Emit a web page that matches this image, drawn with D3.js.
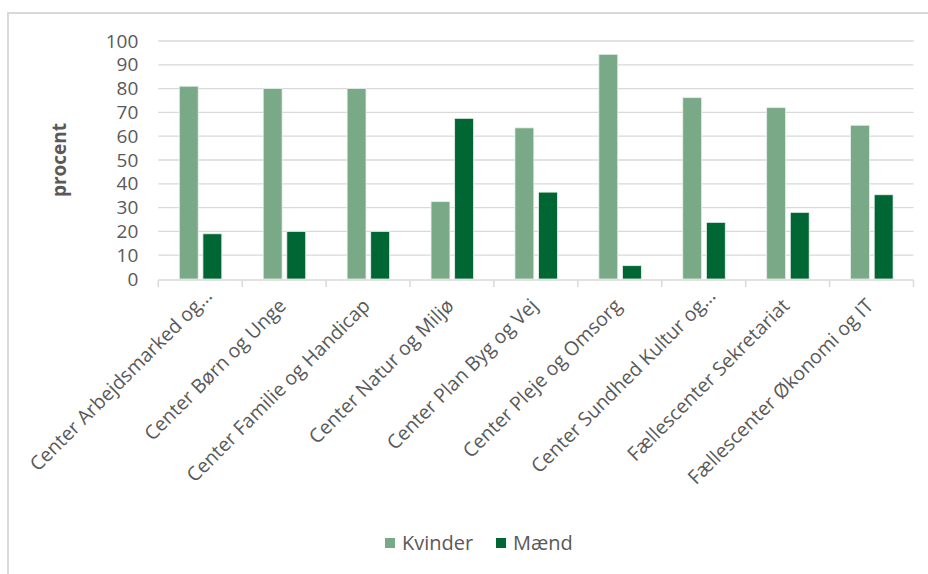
<!DOCTYPE html>
<html>
<head>
<meta charset="utf-8">
<script src="https://cdn.jsdelivr.net/npm/d3@7"></script>
<style>
  html, body { margin: 0; padding: 0; background: #fff; }
  svg { display: block; font-family: "Open Sans", sans-serif; }
</style>
</head>
<body>
<svg id="chart" width="928" height="574"></svg>
<script>
// Andel kvinder og mænd pr. center (procent)
const categories = [
  "Center Arbejdsmarked og…",
  "Center Børn og Unge",
  "Center Familie og Handicap",
  "Center Natur og Miljø",
  "Center Plan Byg og Vej",
  "Center Pleje og Omsorg",
  "Center Sundhed Kultur og…",
  "Fællescenter Sekretariat",
  "Fællescenter Økonomi og IT"
];
const seriesNames = ["Kvinder", "Mænd"];
const kvinder = [81, 80, 80, 32.5, 63.5, 94.4, 76.2, 72, 64.6];
const maend   = [19, 20, 20, 67.5, 36.5, 5.6, 23.8, 28, 35.4];
const yTicks = [0, 10, 20, 30, 40, 50, 60, 70, 80, 90, 100];
const yLabel = "procent";

const colors = { "Kvinder": "#79a987", "Mænd": "#006633" };
const textColor = "#595959";
const gridColor = "#d9d9d9";

const svg = d3.select("#chart");
const plot = { left: 158.3, right: 913.5, top: 41, bottom: 279 };

const rows = categories.map((c, i) => ({ cat: c, Kvinder: kvinder[i], "Mænd": maend[i] }));

const x0 = d3.scaleBand().domain(categories).range([plot.left, plot.right]).padding(0);
const x1 = d3.scaleBand().domain(seriesNames).range([21, 63.5]).paddingInner(0.2).paddingOuter(0);
const y = d3.scaleLinear().domain([0, 100]).range([plot.bottom, plot.top]);

// frame border
svg.append("path")
  .attr("d", `M8,574 L8,13 L928,13`)
  .attr("fill", "none").attr("stroke", gridColor).attr("stroke-width", 2);

// horizontal gridlines
svg.append("g")
  .selectAll("line")
  .data(yTicks.filter(t => t > 0))
  .join("line")
  .attr("x1", plot.left).attr("x2", plot.right)
  .attr("y1", d => y(d)).attr("y2", d => y(d))
  .attr("stroke", gridColor).attr("stroke-width", 1.3);

// y axis tick labels
const yAxis = d3.axisLeft(y).tickValues(yTicks).tickSize(0).tickPadding(20);
const gy = svg.append("g").attr("transform", `translate(${plot.left},0)`).call(yAxis);
gy.select(".domain").remove();
gy.selectAll("text")
  .attr("fill", textColor)
  .style("font-size", "19px")
  .style("font-family", "'Open Sans', sans-serif");

// bars
svg.append("g")
  .selectAll("g")
  .data(rows)
  .join("g")
  .attr("transform", d => `translate(${x0(d.cat)},0)`)
  .selectAll("rect")
  .data(d => seriesNames.map(k => ({ key: k, value: d[k] })))
  .join("rect")
  .attr("x", d => x1(d.key))
  .attr("width", x1.bandwidth())
  .attr("y", d => y(d.value))
  .attr("height", d => y(0) - y(d.value))
  .attr("fill", d => colors[d.key])
  .attr("stroke", "#e8f0ea")
  .attr("stroke-width", 0.8);

// x axis line and category boundary ticks
const bounds = categories.map(c => x0(c)).concat([plot.right]);
svg.append("line")
  .attr("x1", plot.left).attr("x2", plot.right)
  .attr("y1", plot.bottom + 1).attr("y2", plot.bottom + 1)
  .attr("stroke", gridColor).attr("stroke-width", 1.5);
svg.append("g")
  .selectAll("line")
  .data(bounds)
  .join("line")
  .attr("x1", d => d).attr("x2", d => d)
  .attr("y1", plot.bottom + 1).attr("y2", plot.bottom + 8)
  .attr("stroke", gridColor).attr("stroke-width", 1.5);

// rotated category labels
svg.append("g")
  .selectAll("text")
  .data(categories)
  .join("text")
  .attr("transform", d => {
    const cx = x0(d) + x0.bandwidth() / 2;
    const shift = d.endsWith("…") ? 10 : 0;
    return `translate(${cx + 3 + shift},${plot.bottom + 28 - shift}) rotate(-45)`;
  })
  .attr("text-anchor", "end")
  .attr("fill", textColor)
  .style("font-size", "19.5px")
  .text(d => d);

// y axis title
svg.append("text")
  .attr("transform", `translate(66,160) rotate(-90)`)
  .attr("text-anchor", "middle")
  .attr("fill", textColor)
  .style("font-size", "19px")
  .style("font-weight", "bold")
  .text(yLabel);

// legend
const legend = svg.append("g").attr("transform", "translate(385,543)");
const legendX = [0, 111];
seriesNames.forEach((name, i) => {
  const g = legend.append("g").attr("transform", `translate(${legendX[i]},0)`);
  g.append("rect").attr("x", 0).attr("y", -5).attr("width", 10).attr("height", 10)
    .attr("fill", colors[name]);
  g.append("text").attr("x", 17).attr("y", 0).attr("dy", "0.35em")
    .attr("fill", textColor).style("font-size", "20px").text(name);
});
</script>
</body>
</html>
